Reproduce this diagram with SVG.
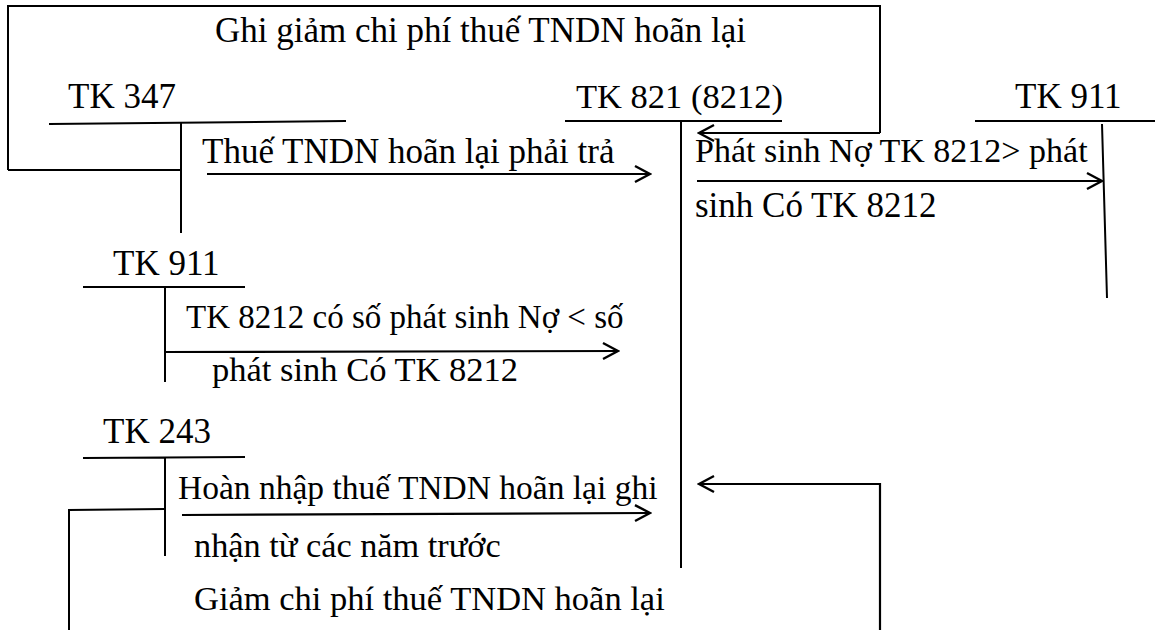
<svg xmlns="http://www.w3.org/2000/svg" width="1155" height="630" viewBox="0 0 1155 630">
<defs>
<style>
text{font-family:"Liberation Serif","Times New Roman",serif;font-size:35px;fill:#000}
.ln{stroke:#000;stroke-width:2;fill:none}
.ar{stroke:#000;stroke-width:2.2;fill:none;marker-end:url(#ah)}
</style>
<marker id="ah" markerUnits="userSpaceOnUse" markerWidth="20" markerHeight="20" viewBox="0 0 20 20" refX="18" refY="10" orient="auto">
<path d="M3,2 L18,10 L3,18" stroke="#000" stroke-width="2.4" fill="none"/>
</marker>
</defs>
<rect width="1155" height="630" fill="#fff"/>
<g id="title"><text x="215" y="42">Ghi giảm chi phí thuế TNDN hoãn lại</text></g>
<g id="tk347">
<text x="68" y="108">TK 347</text>
<path class="ln" d="M49,124 L346,121 M181,122 L181,233"/>
</g>
<g id="tk821">
<text x="576" y="108" style="font-size:34.5px">TK 821 (8212)</text>
<path class="ln" d="M565,121 L782,121 M681,121 L681,568"/>
</g>
<g id="tk911r">
<text x="1015" y="108">TK 911</text>
<path class="ln" d="M975,121 L1155,121 M1102,124 L1107,298"/>
</g>
<g id="tk911l">
<text x="113" y="275">TK 911</text>
<path class="ln" d="M83,287 L245,287 M165,287 L165,382"/>
</g>
<g id="tk243">
<text x="103" y="443">TK 243</text>
<path class="ln" d="M83,458 L245,457 M165,457 L165,556"/>
</g>
<g id="connectors">
<path class="ln" d="M8,170 L8,6 L880,6 L880,133"/>
<path class="ln" d="M8,170 L180,170"/>
<path class="ar" d="M880,133 L699,133"/>
<path class="ar" d="M207,174 L650,174"/>
<path class="ar" d="M697,181 L1102,181"/>
<path class="ar" d="M165,352 L618,351"/>
<path class="ar" d="M182,515 L650,513"/>
<path class="ln" d="M165,509 L69,510 L69,630"/>
<path class="ar" d="M880,630 L880,484 L699,484"/>
<text x="202" y="163">Thuế TNDN hoãn lại phải trả</text>
<text x="695" y="162" style="font-size:34px">Phát sinh Nợ TK 8212&gt; phát</text>
<text x="695" y="217">sinh Có TK 8212</text>
<text x="186" y="328" style="font-size:33px">TK 8212 có số phát sinh Nợ &lt; số</text>
<text x="212" y="381" style="font-size:34.5px">phát sinh Có TK 8212</text>
<text x="178" y="499" style="font-size:33.5px">Hoàn nhập thuế TNDN hoãn lại ghi</text>
<text x="194" y="557" style="font-size:34.3px">nhận từ các năm trước</text>
<text x="194" y="610" style="font-size:34.5px">Giảm chi phí thuế TNDN hoãn lại</text>
</g>
</svg>
